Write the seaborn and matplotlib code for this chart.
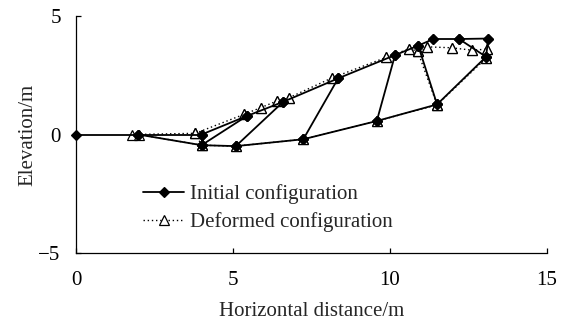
import matplotlib
matplotlib.use("Agg")
import matplotlib.pyplot as plt
import pandas as pd
import seaborn as sns

# Initial mesh: ground-surface nodes (left to right) and base nodes (left to right)
init_top_x = [0.0, 1.98, 4.0, 5.44, 6.6, 8.35, 10.16, 10.9, 11.38, 12.2, 13.13]
init_top_y = [0.0, 0.0, 0.0, 0.78, 1.38, 2.37, 3.35, 3.75, 4.03, 4.03, 4.05]
init_base_x = [1.98, 4.0, 5.09, 7.24, 9.58, 11.5, 13.06]
init_base_y = [0.0, -0.45, -0.49, -0.2, 0.57, 1.27, 3.28]
# element edges joining a surface node (first index) to a base node (second index)
init_links = [(2, 1), (3, 1), (4, 2), (5, 3), (6, 4), (7, 5), (9, 6), (10, 6)]

# Deformed mesh
def_top_x = [1.8, 3.8, 5.35, 5.88, 6.39, 6.78, 8.14, 9.87, 10.62, 10.88, 11.17, 11.96, 12.6, 13.1]
def_top_y = [0.0, 0.05, 0.85, 1.13, 1.41, 1.55, 2.38, 3.25, 3.62, 3.52, 3.7, 3.66, 3.56, 3.6]
def_base_x = [2.0, 4.0, 5.09, 7.24, 9.58, 11.5, 13.06]
def_base_y = [0.0, -0.45, -0.49, -0.2, 0.57, 1.25, 3.22]
def_links = [(1, 1), (9, 5), (13, 6)]

INIT = "Initial configuration"
DEF = "Deformed configuration"

rows = []
seg_id = [0]


def add_segment(label, p, q):
    for x, y in (p, q):
        rows.append({"x": x, "y": y, "config": label, "seg": seg_id[0]})
    seg_id[0] += 1


def add_mesh(label, tx, ty, bx, by, links):
    top = list(zip(tx, ty))
    base = list(zip(bx, by))
    for a, b in zip(top[:-1], top[1:]):
        add_segment(label, a, b)
    for a, b in zip(base[:-1], base[1:]):
        add_segment(label, a, b)
    for i, j in links:
        add_segment(label, top[i], base[j])


add_mesh(DEF, def_top_x, def_top_y, def_base_x, def_base_y, def_links)
add_mesh(INIT, init_top_x, init_top_y, init_base_x, init_base_y, init_links)
df = pd.DataFrame(rows)

FS = 15
sns.set_style("ticks")
plt.rcParams["font.family"] = ["Liberation Serif", "DejaVu Serif"]
plt.rcParams["font.size"] = FS

fig = plt.figure(figsize=(5.7, 3.21), dpi=100)
ax = fig.add_axes([0.1333, 0.2118, 0.8263, 0.7383])

sns.lineplot(
    data=df, x="x", y="y", hue="config", style="config", units="seg",
    estimator=None, sort=False,
    hue_order=[INIT, DEF], style_order=[INIT, DEF],
    palette={INIT: "black", DEF: "black"},
    markers={INIT: "D", DEF: "^"},
    dashes={INIT: "", DEF: (1, 2)},
    linewidth=1.2, markersize=6, markeredgecolor="black",
    markeredgewidth=0.9, ax=ax, clip_on=False,
)


def style_line(ln):
    if ln.get_marker() == "^":
        ln.set_markerfacecolor("white")
        ln.set_markeredgecolor("black")
        ln.set_markersize(7)
        ln.set_linewidth(1.0)
        ln.set_zorder(2)
    elif ln.get_marker() == "D":
        ln.set_markerfacecolor("black")
        ln.set_markeredgecolor("black")
        ln.set_markersize(5.5)
        ln.set_linewidth(1.3)
        ln.set_zorder(3)


for ln in ax.lines:
    style_line(ln)
    ln.set_clip_on(False)

leg = ax.get_legend()
handles, labels = [], []
for h, t in zip(leg.legend_handles, leg.get_texts()):
    if t.get_text() in (INIT, DEF):
        style_line(h)
        handles.append(h)
        labels.append(t.get_text())
leg.remove()
ax.legend(handles, labels, frameon=False, loc="center left",
          bbox_to_anchor=(0.1416, 0.19), handlelength=2.0,
          handletextpad=0.25, labelspacing=0.38, borderpad=0,
          borderaxespad=0, fontsize=FS)

ax.set_xlim(0, 15)
ax.set_ylim(-5, 5)
ax.set_xticks([0, 5, 10, 15])
ax.set_yticks([-5, 0, 5])
sns.despine(ax=ax)
for side in ("left", "bottom"):
    ax.spines[side].set_linewidth(0.9)
    ax.spines[side].set_color("black")
ax.tick_params(axis="x", direction="in", length=3.6, width=0.9, pad=13,
               labelsize=FS, colors="black")
ax.tick_params(axis="y", direction="in", length=3.6, width=0.9, pad=11,
               labelsize=FS, colors="black")

ax.set_xlabel("Horizontal distance/m", fontsize=FS)
ax.set_ylabel("Elevation/m", fontsize=FS)
ax.xaxis.set_label_coords(0.5, -0.205)
ax.yaxis.set_label_coords(-0.082, 0.5)

fig.savefig("out.png", dpi=100)
